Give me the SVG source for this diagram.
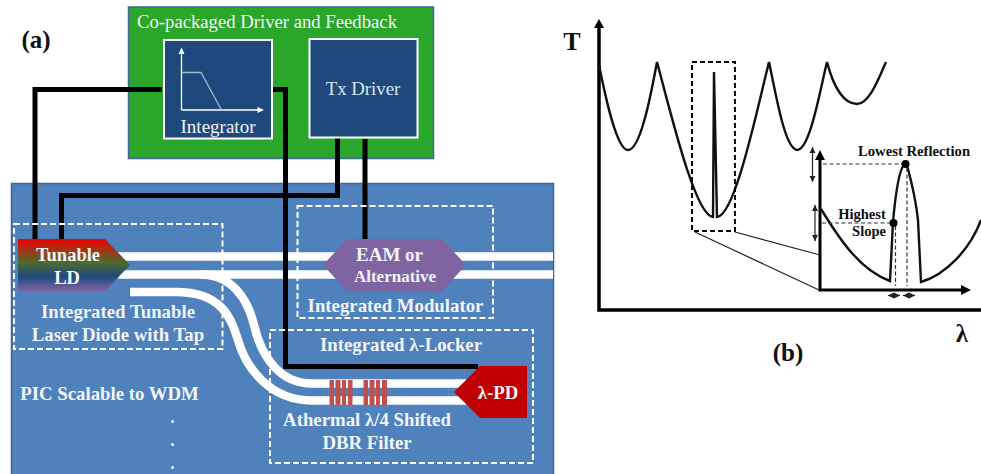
<svg xmlns="http://www.w3.org/2000/svg" width="981" height="474" viewBox="0 0 981 474">
<style>
text{font-family:"Liberation Serif","Times New Roman",serif;text-anchor:middle}
.w{fill:#f2f5fa}
.b{font-weight:bold}
.k{fill:#111;font-weight:bold}
.dash{fill:none;stroke:#fff;stroke-width:2;stroke-dasharray:6 3}
.wire{fill:none;stroke:#000;stroke-width:5}
.wg{fill:none;stroke:#fff;stroke-width:8.5}
.box{fill:#1f497d;stroke:#fff;stroke-width:2}
.ax{fill:none;stroke:#000;stroke-width:3.5}
.cv{fill:none;stroke:#111;stroke-width:2.4}
.thin{fill:none;stroke:#222;stroke-width:1.2}
.dd{fill:none;stroke:#333;stroke-width:1.2;stroke-dasharray:4 2.5}
.gr{fill:#c0504d}
</style>
<defs>
<linearGradient id="ld" x1="0" y1="0" x2="0" y2="1">
<stop offset="0" stop-color="#f00000"/><stop offset=".45" stop-color="#4f6b2c"/><stop offset=".72" stop-color="#1f497d"/><stop offset="1" stop-color="#8064a2"/>
</linearGradient>
<marker id="ah" markerWidth="7" markerHeight="7" refX="6" refY="3.500" orient="auto-start-reverse" markerUnits="userSpaceOnUse"><path d="M0 0.500L6 3.500L0 6.500Z" fill="#222"/></marker>
</defs>
<text id="label-a" x="36" y="48" font-size="25" class="k">(a)</text>
<g id="pic"><rect x="11.500" y="183.500" width="542" height="292" fill="#4f81bd" stroke="#3f6596" stroke-width="1.500"/></g>
<g id="driver-package">
<rect x="128.500" y="7" width="305" height="151.500" fill="#2aa72a" stroke="#41659b" stroke-width="1.500"/>
<text x="267" y="28" font-size="18.700" class="w">Co-packaged Driver and Feedback</text>
</g>
<g id="waveguides">
<path class="wg" d="M118 256.500H553M118 274.500H553"/>
<path class="wg" d="M130 292H176C222 292 231 318 238 340C246 368 270 400.500 312 400.500H470"/>
<path class="wg" d="M200 274.500C232 274 248 300 254 325C262 360 282 383.500 312 383.500H470"/>
</g>
<g id="connectors">
<path class="wire" d="M162 89.500H35V240"/>
<path class="wire" d="M272 89.500H285.500V366.500H478"/>
<path class="wire" d="M337.500 135V195.500H61.500V240"/>
<path class="wire" d="M365 139V240"/>
</g>
<g id="integrator">
<rect class="box" x="164" y="40" width="108" height="98.500"/>
<path d="M181.500 110V52M181.500 110H259" fill="none" stroke="#fff" stroke-width="1.300"/>
<path d="M181.500 47.500L178.500 54H184.500ZM264 110L257.500 107V113Z" fill="#fff"/>
<path d="M182 72.500H201L221.500 110" fill="none" stroke="#a8b6c8" stroke-width="1.300"/>
<text x="218" y="133" font-size="19" class="w">Integrator</text>
</g>
<g id="tx-driver">
<rect class="box" x="309.500" y="39" width="108" height="98.500"/>
<text x="363" y="95" font-size="18.800" fill="#dbe4ef">Tx Driver</text>
</g>
<g id="laser-region">
<rect class="dash" x="14" y="224" width="208.500" height="125"/>
<path d="M18 239H105L130 265L105 291H18Z" fill="url(#ld)"/>
<text x="68" y="261" font-size="18.500" class="w b">Tunable</text>
<text x="67" y="284" font-size="18.500" class="w b">LD</text>
<text x="118" y="318" font-size="18.800" class="w b">Integrated Tunable</text>
<text x="118" y="341" font-size="18.800" class="w b">Laser Diode with Tap</text>
</g>
<g id="modulator-region">
<rect class="dash" x="297.500" y="206" width="195.500" height="112"/>
<path d="M347 239H442L466 265L442 291H347L323 265Z" fill="#8064a2"/>
<text x="389.500" y="261" font-size="19" class="w b">EAM or</text>
<text x="395" y="282" font-size="17" class="w b">Alternative</text>
<text x="395.500" y="312" font-size="18.800" class="w b">Integrated Modulator</text>
</g>
<g id="locker-region">
<rect class="dash" x="270" y="330" width="263" height="133"/>
<text x="401" y="351" font-size="18.800" class="w b">Integrated λ-Locker</text>
<path class="gr" d="M329.500 380h4.500v25h-4.500zM335.500 380h5v25h-5zM342 380h4v25h-4zM348 380h4.500v25h-4.500zM363.500 380h4.500v25h-4.500zM369.500 380h5v25h-5zM376 380h4v25h-4zM382 380h5v25h-5z"/>
<path d="M454 392L480 366H527V418H480Z" fill="#c00000"/>
<text x="498" y="399" font-size="18.800" class="w b">λ-PD</text>
<text x="367" y="426" font-size="18.800" class="w b">Athermal λ/4 Shifted</text>
<text x="367" y="449" font-size="18.800" class="w b">DBR Filter</text>
</g>
<g id="pic-label">
<text x="109.500" y="400" font-size="18.800" class="w b">PIC Scalable to WDM</text>
<circle cx="172.500" cy="421.500" r="1.500" fill="#fff"/><circle cx="172.500" cy="444.500" r="1.500" fill="#fff"/><circle cx="172.500" cy="467.500" r="1.500" fill="#fff"/>
</g>
<g id="chart">
<path class="ax" d="M599 28V310H981"/>
<path d="M599 19L594 28H604Z" fill="#000"/>
<path class="cv" d="M599 65C606 100 617 150 628 150C640 150 650 100 657 62C670 110 695 216 713 217L714 72L717 217C735 216 757 110 769 62C777 100 785 148 797 150C810 150 820 90 827 62C833 85 843 104 857 104C870 104 880 75 886 62"/>
<rect x="692" y="62" width="43" height="169" fill="none" stroke="#000" stroke-width="2" stroke-dasharray="5 3"/>
<path class="thin" d="M695 232L819 290M735 232L820 255"/>
<path d="M820 160V290H964" fill="none" stroke="#000" stroke-width="3"/>
<path d="M820 150L815 160H825ZM971 290L961 285V295Z" fill="#000"/>
<path class="cv" d="M821 209C840 240 860 270 890 281L893 222C895 200 899 170 904 165H907C911 180 916 200 918 220L921 282C945 275 970 250 981 220"/>
<path class="dd" d="M823 164H905M822 223H893M895.500 226V286M907 168V286"/>
<circle cx="905.500" cy="164" r="4" fill="#000"/><circle cx="893.500" cy="223" r="4" fill="#000"/>
<path class="thin" marker-start="url(#ah)" marker-end="url(#ah)" d="M812.500 147V182"/>
<path class="thin" marker-start="url(#ah)" marker-end="url(#ah)" d="M815 205V241"/>
<path class="thin" marker-start="url(#ah)" marker-end="url(#ah)" d="M888 295.500H900"/>
<path class="thin" marker-start="url(#ah)" marker-end="url(#ah)" d="M903 295.500H915"/>
<text x="914" y="156" font-size="14.700" class="k">Lowest Reflection</text>
<text x="862" y="219" font-size="14.500" class="k">Highest</text>
<text x="869" y="236" font-size="14.500" class="k">Slope</text>
<text x="572" y="50" font-size="26" class="k">T</text>
<text x="962" y="342" font-size="25" class="k">λ</text>
<text x="788" y="361" font-size="25" class="k">(b)</text>
</g>
</svg>
